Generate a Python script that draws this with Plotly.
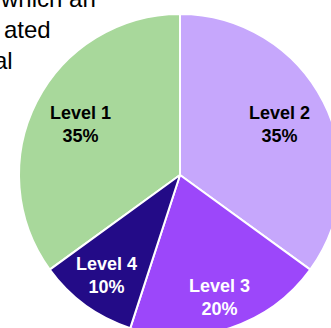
import math
import plotly.graph_objects as go

labels = ["Level 1", "Level 2", "Level 3", "Level 4"]
values = [35, 35, 20, 10]
colors = ["#a8d89b", "#c6a7fc", "#9c47fa", "#230b87"]
text_colors = ["#000000", "#000000", "#ffffff", "#ffffff"]
label_radius = [0.693, 0.693, 0.803, 0.772]  # label distance as fraction of radius

# fragments of surrounding paragraph text visible at top-left
frag_text = ["which an", "ated", "al"]
frag_right_px = [97, 52, 14]
frag_mid_px = [-1.2, 29.4, 60.2]

ROTATION = 234
W, H = 341, 336
ML, MT = 19, 14
PW, PH = W - ML, H - MT
FONT = "Arial, Liberation Sans, sans-serif"

def px_x(p):
    return (p - ML) / PW

def px_y(p):
    return 1 - (p - MT) / PH

fig = go.Figure(go.Pie(
    labels=labels,
    values=values,
    sort=False,
    direction="clockwise",
    rotation=ROTATION,
    marker=dict(colors=colors, line=dict(color="white", width=2)),
    textinfo="none",
    hoverinfo="none",
    showlegend=False,
))

# slice labels placed at each slice's mid-angle (derived from the values)
total = sum(values)
cum = 0
for lab, v, c, f in zip(labels, values, text_colors, label_radius):
    mid = math.radians(ROTATION + (cum + v / 2) / total * 360)
    cum += v
    fig.add_annotation(
        text=f"<b>{lab}<br>{round(v / total * 100)}%</b>",
        xref="paper", yref="paper",
        x=0.5 + 0.5 * f * math.sin(mid), y=0.5 + 0.5 * f * math.cos(mid),
        xanchor="center", yanchor="middle", align="center",
        showarrow=False, borderpad=0,
        font=dict(family=FONT, size=18, color=c),
    )

for t, xr, ym in zip(frag_text, frag_right_px, frag_mid_px):
    fig.add_annotation(
        text=t, xref="paper", yref="paper",
        x=px_x(xr), y=px_y(ym), xanchor="right", yanchor="middle",
        showarrow=False, borderpad=0,
        font=dict(family=FONT, size=24, color="#000000"),
    )

fig.update_layout(
    width=W, height=H,
    margin=dict(l=ML, t=MT, r=0, b=0, pad=0),
    paper_bgcolor="white", plot_bgcolor="white",
)

fig.write_html(
    "out.html",
    config={"displayModeBar": False},
    post_script="document.body.style.margin='0';document.body.style.overflow='hidden';document.documentElement.style.overflow='hidden';",
)
